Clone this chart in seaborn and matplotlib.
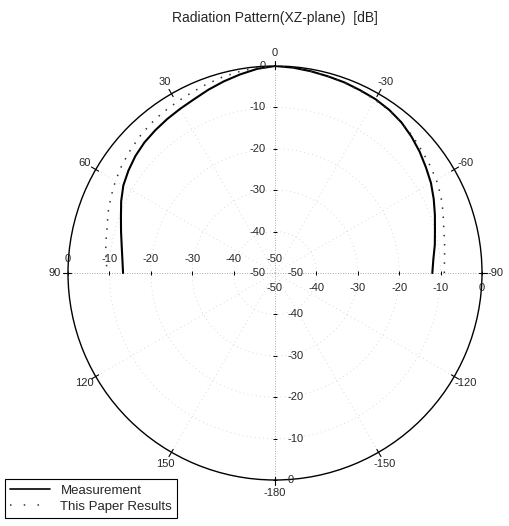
import numpy as np
import pandas as pd
import matplotlib
matplotlib.use("Agg")
import matplotlib.pyplot as plt
from matplotlib import transforms
from matplotlib.lines import Line2D
import seaborn as sns

# Angles (deg) of the XZ-plane cut, positive angles counter-clockwise from broadside
angles_deg = [-90, -85, -80, -75, -70, -65, -60, -55, -50, -45, -40, -35, -30,
              -25, -20, -15, -10, -5, 0, 5, 10, 15, 20, 25, 30, 35, 40, 45,
              50, 55, 60, 65, 70, 75, 80, 85, 90]

measurement_db = [-12.0, -11.6, -10.8, -10.0, -8.9, -7.7, -6.5, -5.5, -4.4, -3.4,
                  -2.5, -1.9, -1.5, -1.3, -1.0, -0.8, -0.5, -0.2, 0.0, -0.5,
                  -1.3, -2.1, -2.9, -3.7, -4.2, -4.6, -5.0, -5.4, -6.0, -6.8,
                  -7.7, -9.0, -10.4, -11.5, -12.4, -13.0, -13.3]

paper_db = [-9.1, -8.9, -8.4, -7.8, -6.8, -5.8, -5.0, -4.4, -3.8, -3.1,
            -2.5, -2.0, -1.7, -1.4, -1.1, -0.8, -0.5, -0.2, 0.0, -0.2,
            -0.6, -1.0, -1.5, -2.0, -2.4, -2.7, -3.1, -3.6, -4.2, -4.8,
            -5.5, -6.3, -7.1, -8.0, -8.5, -9.0, -9.5]

angle_ticks = [0, 30, 60, 90, 120, 150, 180, -150, -120, -90, -60, -30]
angle_labels = ["0", "30", "60", "90", "120", "150", "-180",
                "-150", "-120", "-90", "-60", "-30"]
radial_ticks = [0, -10, -20, -30, -40, -50]
radial_labels = ["0", "-10", "-20", "-30", "-40", "-50"]
series_names = ["Measurement", "This Paper Results"]

sns.set_style("white")
plt.rcParams["font.family"] = ["Liberation Sans", "DejaVu Sans"]

W, H = 510, 526
fig = plt.figure(figsize=(W / 100, H / 100), dpi=100)
cx, cy, R = 275, 273, 207
ax = fig.add_axes([(cx - R) / W, (H - cy - R) / H, 2 * R / W, 2 * R / H],
                  projection="polar")
ax.set_theta_zero_location("N")
ax.set_theta_direction(1)

theta = np.deg2rad(angles_deg)
df = pd.DataFrame({"theta": np.concatenate([theta, theta]),
                   "db": measurement_db + paper_db,
                   "series": [series_names[0]] * len(theta) + [series_names[1]] * len(theta)})

# grid: faint dotted spokes and rings
full = np.linspace(0, 2 * np.pi, 400)
for lvl in [-10, -20, -30, -40]:
    ax.plot(full, np.full_like(full, lvl), ls=(0, (1, 4)), color="#cfcfcf", lw=0.6, zorder=1)
for a in range(0, 360, 30):
    main = a % 90 == 0
    ax.plot([np.deg2rad(a)] * 2, [-50, 0], ls=(0, (1, 2 if main else 4)),
            color="#8a8a8a" if main else "#cfcfcf", lw=0.6, zorder=1)

sns.lineplot(data=df[df.series == series_names[0]], x="theta", y="db", ax=ax,
             color="black", lw=1.5, sort=False, legend=False, zorder=3)
sns.lineplot(data=df[df.series == series_names[1]], x="theta", y="db", ax=ax,
             color="#333333", lw=1.1, ls=(0, (1, 5)), sort=False, legend=False, zorder=3)

ax.set_ylim(-50, 0)
ax.set_xticks([])
ax.set_yticks([])
ax.grid(False)
ax.set_xlabel("")
ax.set_ylabel("")
ax.spines["polar"].set_linewidth(1.0)
ax.spines["polar"].set_color("black")

# angular ticks and labels around the rim
for a, lab in zip(angle_ticks, angle_labels):
    t = np.deg2rad(a)
    ax.plot([t, t], [-0.8, 1.2], color="black", lw=0.8, clip_on=False)
    ax.text(t, 3.2, lab, ha="center", va="center", fontsize=8, clip_on=False)

# radial tick labels along the four main axes
axis_specs = [
    (0, dict(x=-9, y=0), "right", "center", "_"),
    (90, dict(x=0, y=14), "center", "center", "|"),
    (180, dict(x=13, y=0), "left", "center", "_"),
    (-90, dict(x=0, y=-15), "center", "center", "|"),
]
for a, off, ha, va, mk in axis_specs:
    t = np.deg2rad(a)
    tr = transforms.offset_copy(ax.transData, fig=fig, units="dots", **off)
    for r, lab in zip(radial_ticks, radial_labels):
        ax.text(t, r, lab, transform=tr, ha=ha, va=va, fontsize=8, clip_on=False)
        if r > -50:
            ax.plot([t], [r], marker=mk, color="black", ms=3.5, mew=0.7, clip_on=False)

fig.text(cx / W, 1 - 18 / H, "Radiation Pattern(XZ-plane)  [dB]",
         ha="center", va="center", fontsize=10)

handles = [Line2D([], [], color="black", lw=1.2),
           Line2D([], [], color="#333333", lw=1.1, ls=(0, (1, 8)))]
leg = fig.legend(handles, series_names, loc="upper left",
                 bbox_to_anchor=(5 / W, 1 - 479 / H), frameon=True, fancybox=False,
                 edgecolor="black", framealpha=1, fontsize=9.5, handlelength=3,
                 borderaxespad=0, borderpad=0.4, labelspacing=0.3)
leg.get_frame().set_linewidth(0.8)

fig.savefig("out.png", dpi=100)
